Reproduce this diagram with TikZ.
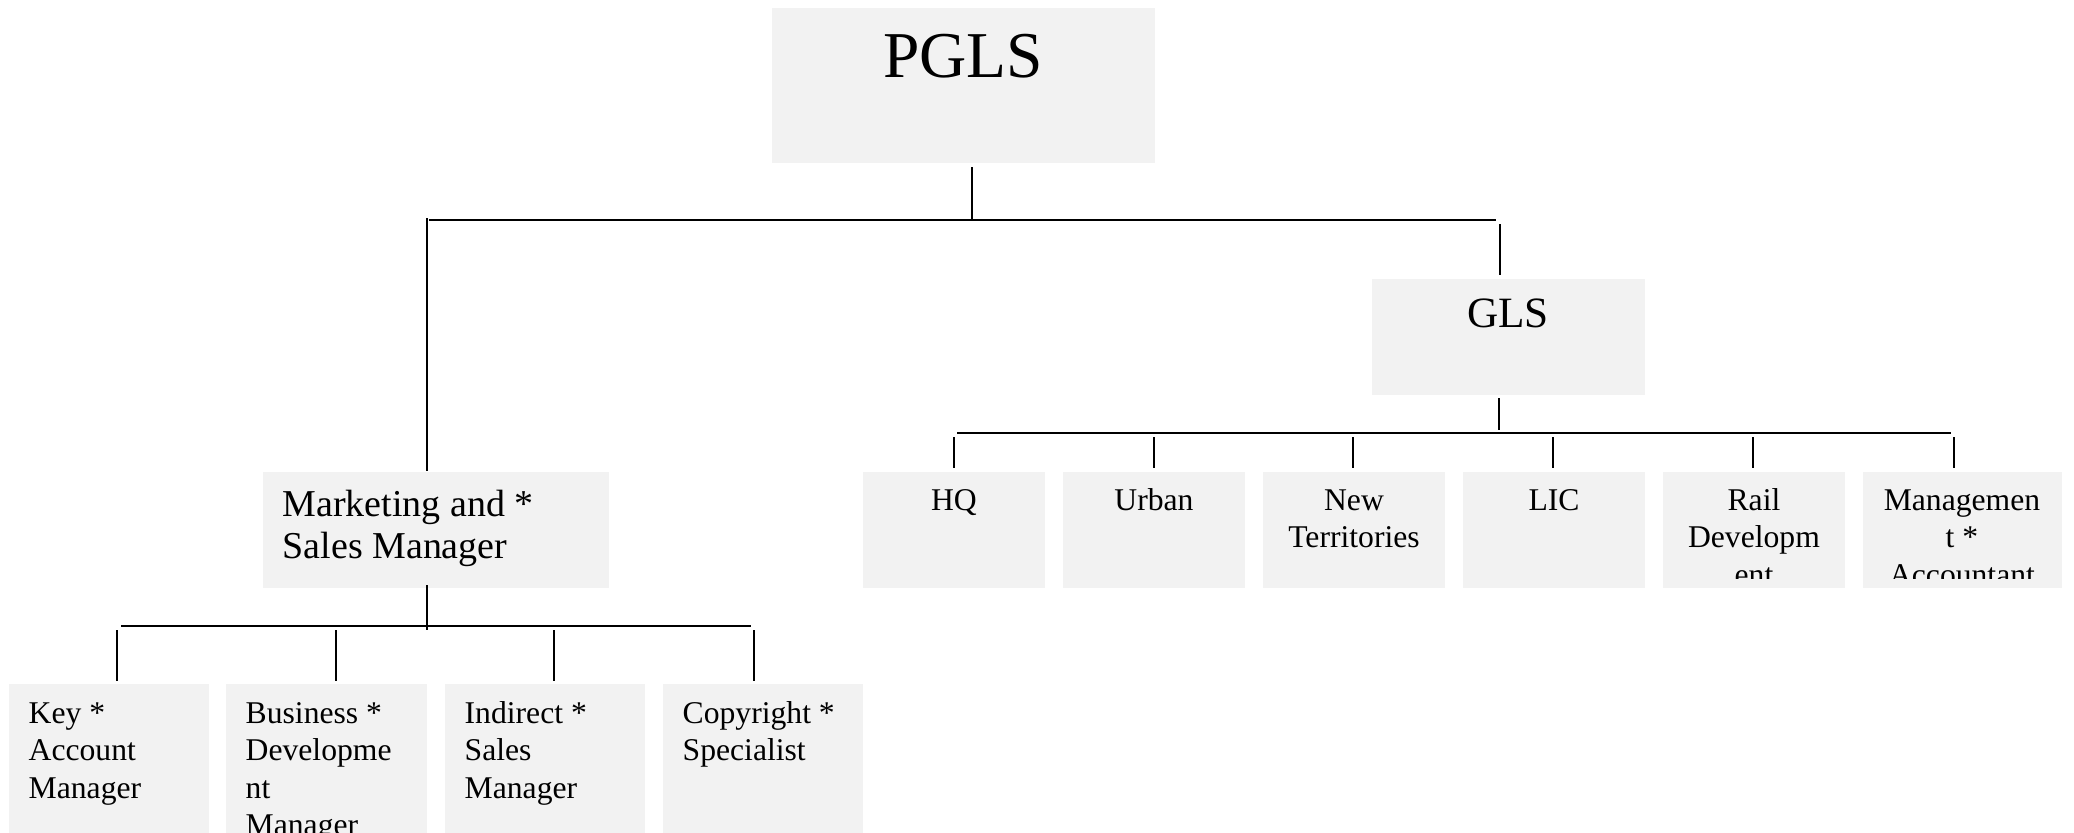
\documentclass[tikz,border=0pt]{standalone}
\usepackage{fontspec}
\setmainfont{Liberation Serif}
\usetikzlibrary{fit}
\definecolor{boxgray}{HTML}{F2F2F2}
\newcommand\txtlines[2]{\begin{tabular}[t]{@{}#1@{}}#2\end{tabular}}
\tikzset{
  box/.style={fill=boxgray, draw=none, inner sep=0pt},
  lbl/.style={inner sep=0pt, font=\fontsize{9}{10.67}\selectfont},
  hbus/.style={line width=0.8pt},
  vlink/.style={line width=0.55pt},
}
\begin{document}
\begin{tikzpicture}[x=0.01cm,y=-0.01cm]
\useasboundingbox (0,0) rectangle (2074,832);

% ---------- boxes ----------
\node[box, fit={(772,8) (1155,163)}] (pgls) {};
\node[box, fit={(1372,279) (1645,395)}] (gls) {};
\node[box, fit={(263,472) (609,588)}] (mkt) {};

\node[box, fit={(863,472) (1045,588)}] (hq) {};
\node[box, fit={(1063,472) (1245,588)}] (urban) {};
\node[box, fit={(1263,472) (1445,588)}] (nt) {};
\node[box, fit={(1463,472) (1645,588)}] (lic) {};
\node[box, fit={(1663,472) (1845,588)}] (rail) {};
\node[box, fit={(1863,472) (2062,588)}] (mgmt) {};

\node[box, fit={(9,684) (209,840)}] (kam) {};
\node[box, fit={(226,684) (427,840)}] (bdm) {};
\node[box, fit={(445,684) (645,840)}] (ism) {};
\node[box, fit={(663,684) (863,840)}] (cs) {};

% ---------- texts ----------
\node[anchor=base, inner sep=0pt, font=\fontsize{18.6}{22}\selectfont] (pglst) at (963,77) {PGLS};
\node[anchor=base, inner sep=0pt, font=\fontsize{12.3}{15}\selectfont] (glst) at (1508,327) {GLS};
\node[anchor=base west, inner sep=0pt, font=\fontsize{10.8}{11.95}\selectfont] (mktt) at (282,516)
  {\txtlines{l}{Marketing and *\\Sales Manager}};

\begin{scope}
  \clip (850,460) rectangle (2074,578);
  \node[lbl, anchor=base] (hqt) at (954,510) {\txtlines{c}{HQ}};
  \node[lbl, anchor=base] (urbant) at (1154,510) {\txtlines{c}{Urban}};
  \node[lbl, anchor=base] (ntt) at (1354,510) {\txtlines{c}{New\\Territories}};
  \node[lbl, anchor=base] (lict) at (1554,510) {\txtlines{c}{LIC}};
  \node[lbl, anchor=base] (railt) at (1754,510) {\txtlines{c}{Rail\\Developm\\ent}};
  \node[lbl, anchor=base] (mgmtt) at (1962,510) {\txtlines{c}{Managemen\\t *\\Accountant}};
\end{scope}

\node[lbl, anchor=base west] (kamt) at (28,723) {\txtlines{l}{Key *\\Account\\Manager}};
\node[lbl, anchor=base west] (bdmt) at (245,723) {\txtlines{l}{Business *\\Developme\\nt\\Manager}};
\node[lbl, anchor=base west] (ismt) at (464,723) {\txtlines{l}{Indirect *\\Sales\\Manager}};
\node[lbl, anchor=base west] (cst) at (682,723) {\txtlines{l}{Copyright *\\Specialist}};

% ---------- connector coordinates ----------
\coordinate (pglsdrop) at (972,167);
\coordinate (topbusL) at (429,220);
\coordinate (topbusR) at (1496,220);
\coordinate (mktup) at (427,218);
\coordinate (glsup) at (1500,224);
\coordinate (glsupend) at (1500,275);
\coordinate (glsdrop) at (1499,398);
\coordinate (glsbus) at (1499,430);
\coordinate (gbusL) at (957,433);
\coordinate (gbusR) at (1951,433);
\coordinate (mktdrop) at (427,585);
\coordinate (mktbus) at (427,630);
\coordinate (mbusL) at (121,626);
\coordinate (mbusR) at (751,626);

% ---------- connectors ----------
\draw[vlink] (pglsdrop) -- (pglsdrop |- topbusL);
\draw[hbus] (topbusL) -- (topbusR);
\draw[vlink] (mktup) -- (mktup |- mkt.north);
\draw[vlink] (glsup) -- (glsupend);
\draw[vlink] (glsdrop) -- (glsbus);
\draw[hbus] (gbusL) -- (gbusR);
\foreach \n/\x in {hq/954, urban/1154, nt/1353, lic/1553, rail/1753, mgmt/1954}
  \draw[vlink] (\x,437) -- (\x,468);
\draw[vlink] (mktdrop) -- (mktbus);
\draw[hbus] (mbusL) -- (mbusR);
\foreach \n/\x in {kam/117, bdm/336, ism/554, cs/754}
  \draw[vlink] (\x,630) -- (\x,681);
\end{tikzpicture}
\end{document}
